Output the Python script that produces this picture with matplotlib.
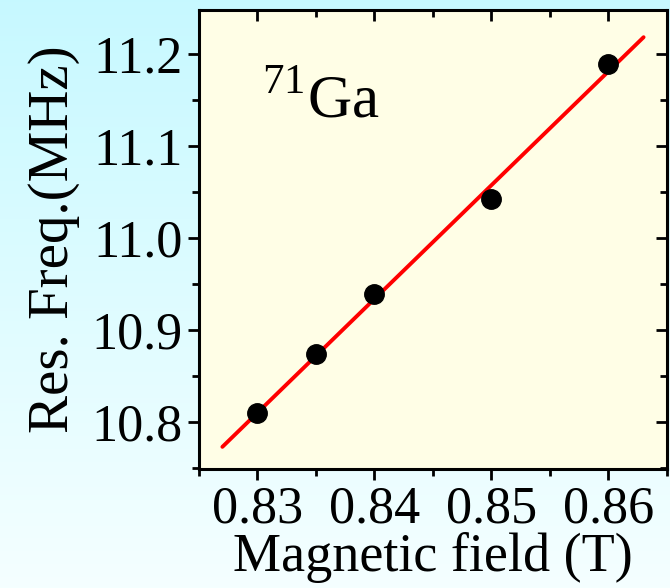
import numpy as np
import matplotlib
matplotlib.use("Agg")
import matplotlib.pyplot as plt
from matplotlib.ticker import MultipleLocator

# data
field = [0.830, 0.835, 0.840, 0.850, 0.860]          # T
freq = [10.810, 10.874, 10.939, 11.043, 11.189]      # MHz
fit_range = [0.827, 0.863]

plt.rcParams['font.family'] = ['Liberation Serif', 'DejaVu Serif']
plt.rcParams['mathtext.fontset'] = 'custom'
plt.rcParams['mathtext.rm'] = 'Liberation Serif'

fig = plt.figure(figsize=(6.7, 5.88), dpi=100)

# light cyan gradient behind everything
bg = fig.add_axes([0, 0, 1, 1], zorder=-10)
grad = np.linspace(0, 1, 256).reshape(-1, 1)
top = np.array([0.78, 0.975, 1.0])
bot = np.array([0.96, 1.0, 1.0])
img = top[None, None, :] * (1 - grad[:, :, None]) + bot[None, None, :] * grad[:, :, None]
bg.imshow(img, aspect='auto', extent=[0, 1, 0, 1])
bg.axis('off')

ax = fig.add_axes([0.297, 0.2024, 0.6985, 0.7806])
ax.set_facecolor('#fffee6')

# linear fit
k, b = np.polyfit(field, freq, 1)
xf = np.array(fit_range)
ax.plot(xf, k * xf + b, color='#ff0000', lw=2.8, solid_capstyle='round', zorder=2)
ax.plot(field, freq, 'o', color='black', ms=14, zorder=3)

ax.set_xlim(0.825, 0.865)
ax.set_ylim(10.749, 11.248)
ax.xaxis.set_major_locator(MultipleLocator(0.01))
ax.xaxis.set_minor_locator(MultipleLocator(0.005))
ax.yaxis.set_major_locator(MultipleLocator(0.1))
ax.yaxis.set_minor_locator(MultipleLocator(0.05))
ax.set_xticks([0.83, 0.84, 0.85, 0.86])
ax.set_xticklabels(['0.83', '0.84', '0.85', '0.86'])
ax.set_yticks([10.8, 10.9, 11.0, 11.1, 11.2])
ax.set_yticklabels(['10.8', '10.9', '11.0', '11.1', '11.2'])

for s in ax.spines.values():
    s.set_linewidth(2.2)

ax.tick_params(which='both', direction='out', width=2, labelsize=37.5, top=False, right=False)
ax.tick_params(which='major', length=8, pad=4)
ax.tick_params(which='minor', length=5)

# inward ticks on top and right
ax2 = ax.secondary_xaxis('top')
ax2.xaxis.set_major_locator(MultipleLocator(0.01))
ax2.xaxis.set_minor_locator(MultipleLocator(0.005))
ax2.tick_params(which='both', direction='in', width=2, labeltop=False)
ax2.tick_params(which='major', length=8)
ax2.tick_params(which='minor', length=5)
ax2.spines['top'].set_visible(False)
ay2 = ax.secondary_yaxis('right')
ay2.yaxis.set_major_locator(MultipleLocator(0.1))
ay2.yaxis.set_minor_locator(MultipleLocator(0.05))
ay2.tick_params(which='both', direction='in', width=2, labelright=False)
ay2.tick_params(which='major', length=8)
ay2.tick_params(which='minor', length=5)
ay2.spines['right'].set_visible(False)

ax.set_xlabel('Magnetic field (T)', fontsize=39, labelpad=-1)
ax.set_ylabel('Res. Freq.(MHz)', fontsize=41, labelpad=8)

ax.text(0.8304, 11.1315, r'$^{71}$Ga', fontsize=44, ha='left', va='baseline')

fig.savefig('out.png', dpi=100)
